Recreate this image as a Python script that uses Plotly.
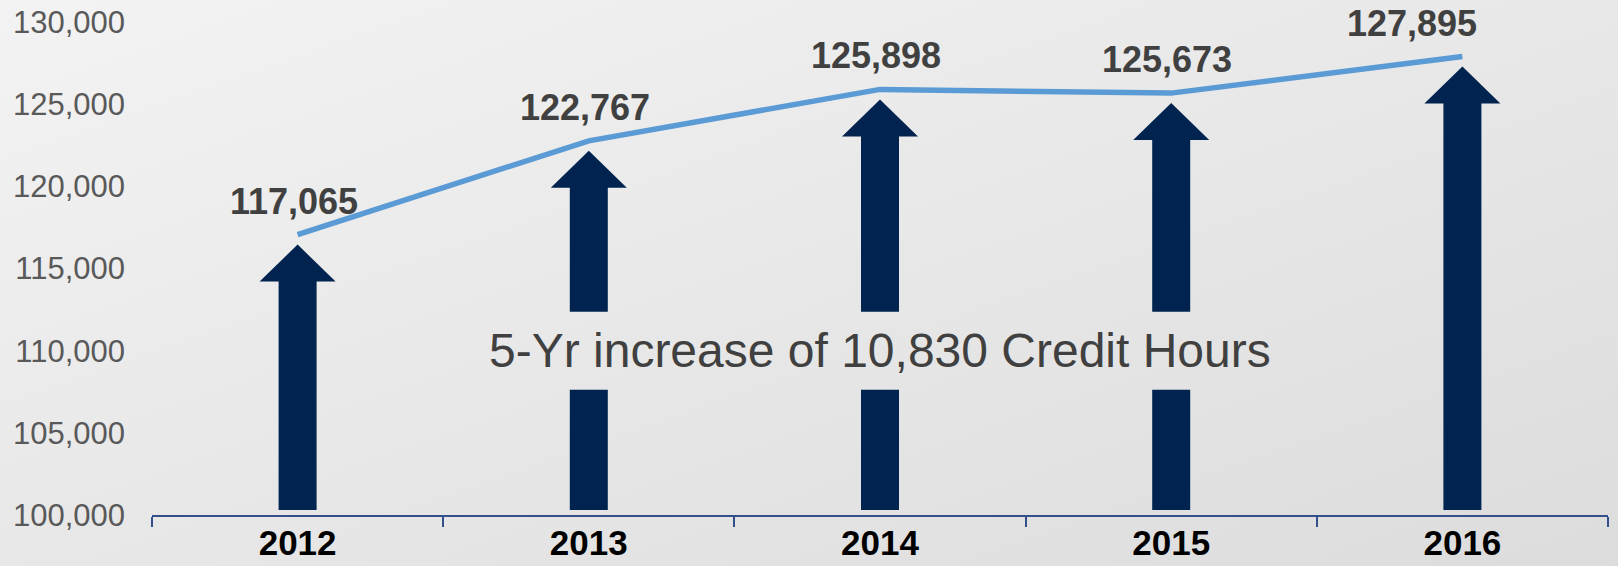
import base64
import plotly.graph_objects as go

# Annual credit hours
years = ["2012", "2013", "2014", "2015", "2016"]
credit_hours = [117065, 122767, 125898, 125673, 127895]
summary_text = "5-Yr increase of 10,830 Credit Hours"

W, H = 1618, 566
M = dict(l=152, r=10, t=22, b=51)
plot_w = W - M["l"] - M["r"]
plot_h = H - M["t"] - M["b"]

Y_MIN, Y_MAX = 100000, 130000
px_per_unit_y = plot_h / (Y_MAX - Y_MIN)
px_per_unit_x = plot_w / len(years)

LINE_COLOR = "#5B9BD5"
ARROW_COLOR = "#00234F"
AXIS_COLOR = "#34508A"
FONT = "Liberation Sans, Arial, sans-serif"

x_idx = list(range(len(years)))

# Soft diagonal gradient for the backdrop
svg = (
    '<svg xmlns="http://www.w3.org/2000/svg" width="100" height="100" preserveAspectRatio="none">'
    '<defs><linearGradient id="g" x1="0" y1="0" x2="1" y2="1">'
    '<stop offset="0" stop-color="#f3f3f3"/><stop offset="1" stop-color="#dcdcdc"/>'
    '</linearGradient></defs><rect width="100" height="100" fill="url(#g)"/></svg>'
)
bg_src = "data:image/svg+xml;base64," + base64.b64encode(svg.encode()).decode()

fig = go.Figure()

fig.add_trace(go.Scatter(
    x=x_idx, y=credit_hours, mode="lines",
    line=dict(color=LINE_COLOR, width=5.5),
    hoverinfo="skip", showlegend=False,
))

# Arrow geometry (pixels converted to data units)
def dx(px):
    return px / px_per_unit_x

def dy(px):
    return px / px_per_unit_y

body_hw = dx(19)
head_hw = dx(38)
head_h = dy(37)
tip_gap = dy(10)
base_y = Y_MIN + dy(5)

text_y = 110000
gap_half = dy(39)
text_half_w = dx(405)
text_x = 2

shapes = []
for i, v in zip(x_idx, credit_hours):
    tip = v - tip_gap
    neck = tip - head_h
    cut = abs(i - text_x) + body_hw <= text_half_w
    head = (f"L{i + body_hw},{neck} L{i + head_hw},{neck} L{i},{tip} "
            f"L{i - head_hw},{neck} L{i - body_hw},{neck} ")
    if cut:
        lo, hi = text_y - gap_half, text_y + gap_half
        shapes.append(dict(
            type="path", xref="x", yref="y", layer="below",
            path=f"M{i - body_hw},{base_y} L{i + body_hw},{base_y} "
                 f"L{i + body_hw},{lo} L{i - body_hw},{lo} Z",
            fillcolor=ARROW_COLOR, line=dict(width=0)))
        shapes.append(dict(
            type="path", xref="x", yref="y", layer="below",
            path=f"M{i - body_hw},{hi} L{i + body_hw},{hi} " + head + "Z",
            fillcolor=ARROW_COLOR, line=dict(width=0)))
    else:
        shapes.append(dict(
            type="path", xref="x", yref="y", layer="below",
            path=f"M{i - body_hw},{base_y} L{i + body_hw},{base_y} " + head + "Z",
            fillcolor=ARROW_COLOR, line=dict(width=0)))

annotations = []
label_xshift = {4: -50}
for i, v in zip(x_idx, credit_hours):
    annotations.append(dict(
        x=i, y=v, xref="x", yref="y", text=f"{v:,}", showarrow=False,
        yanchor="bottom", yshift=11, xshift=label_xshift.get(i, -4),
        font=dict(family=FONT, size=36, color="#404040", weight="bold"),
    ))

annotations.append(dict(
    x=text_x, y=text_y, xref="x", yref="y", text=summary_text, showarrow=False,
    xanchor="center", yanchor="middle",
    font=dict(family=FONT, size=48, color="#404040"),
))

fig.update_layout(
    width=W, height=H, margin=dict(**M, autoexpand=False),
    paper_bgcolor="#e8e8e8", plot_bgcolor="rgba(0,0,0,0)",
    images=[dict(
        source=bg_src, xref="paper", yref="paper",
        x=-M["l"] / plot_w, y=1 + M["t"] / plot_h,
        sizex=W / plot_w, sizey=H / plot_h,
        sizing="stretch", xanchor="left", yanchor="top", layer="below",
    )],
    shapes=shapes, annotations=annotations,
    showlegend=False,
    xaxis=dict(
        range=[-0.5, len(years) - 0.5], tickvals=x_idx, ticktext=years,
        ticks="", showgrid=False, zeroline=False, automargin=False,
        showline=True, linecolor=AXIS_COLOR, linewidth=1.5,
        tickfont=dict(family=FONT, size=35, color="#000000", weight="bold"),
        ticklabelstandoff=-4,
        minor=dict(tickvals=[k - 0.5 for k in range(len(years) + 1)],
                   ticks="outside", ticklen=10, tickcolor=AXIS_COLOR, tickwidth=1.5,
                   showgrid=False),
        fixedrange=True,
    ),
    yaxis=dict(
        range=[Y_MIN, Y_MAX], dtick=5000, tickformat=",",
        showgrid=False, zeroline=False, showline=False, ticks="",
        automargin=False,
        tickfont=dict(family=FONT, size=31, color="#595959"),
        ticklabelstandoff=26, fixedrange=True,
    ),
)

fig.write_html("out.html")
